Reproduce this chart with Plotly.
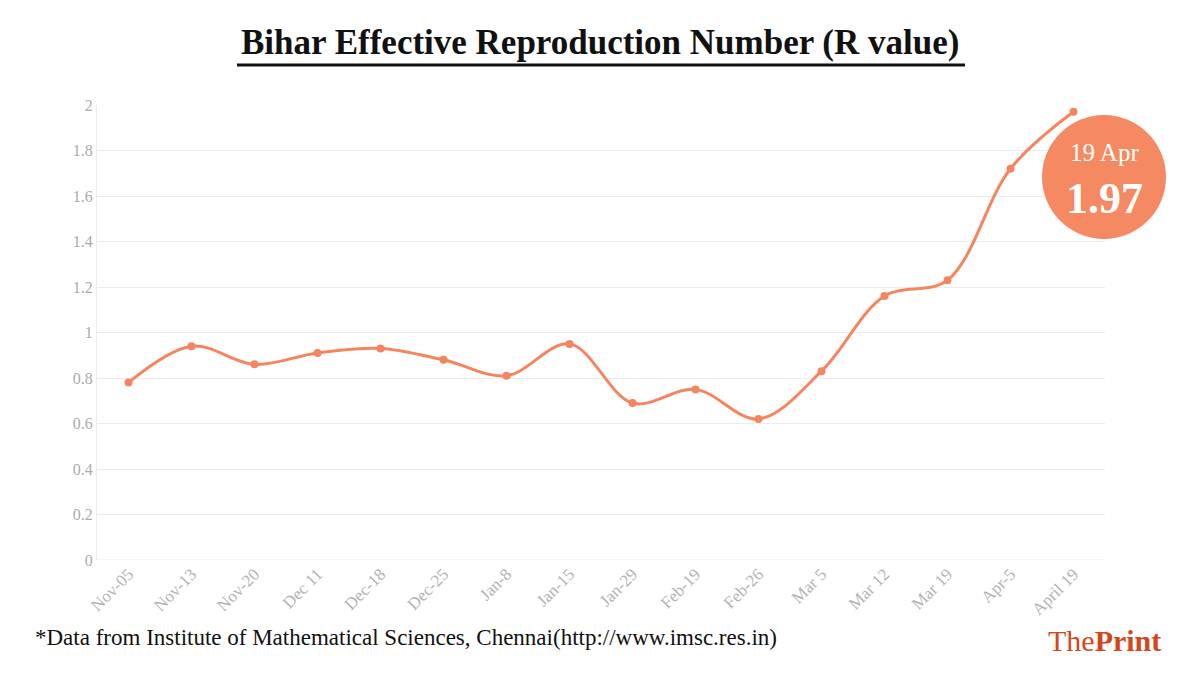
import plotly.graph_objects as go

categories = ["Nov-05", "Nov-13", "Nov-20", "Dec 11", "Dec-18", "Dec-25", "Jan-8", "Jan-15",
              "Jan-29", "Feb-19", "Feb-26", "Mar 5", "Mar 12", "Mar 19", "Apr-5", "April 19"]
r_values = [0.78, 0.94, 0.86, 0.91, 0.93, 0.88, 0.81, 0.95, 0.69, 0.75, 0.62, 0.83, 1.16, 1.23, 1.72, 1.97]
y_ticks = [0, 0.2, 0.4, 0.6, 0.8, 1, 1.2, 1.4, 1.6, 1.8, 2]
y_tick_labels = ["0", "0.2", "0.4", "0.6", "0.8", "1", "1.2", "1.4", "1.6", "1.8", "2"]

ORANGE = "#F5855E"
SERIF = "Liberation Serif, DejaVu Serif, serif"

# plot area in screen pixels (page has an 8px body offset)
L, R, T, B = 97, 1105, 105, 560
OFF = 8
W, H = R - L, B - T


def px(sx):
    return (sx - L) / W


def py(sy):
    return (B - sy) / H


fig = go.Figure()
fig.add_trace(go.Scatter(
    x=categories, y=r_values, mode="lines+markers",
    line=dict(color=ORANGE, width=3, shape="spline", smoothing=1.0),
    marker=dict(color=ORANGE, size=8),
    showlegend=False, hoverinfo="x+y",
))

fig.update_layout(
    width=1200, height=675,
    margin=dict(l=L - OFF, r=1200 - (L - OFF) - W, t=T - OFF, b=675 - (T - OFF) - H),
    paper_bgcolor="white", plot_bgcolor="white",
    font=dict(family=SERIF, color="#aaaaaa"),
    xaxis=dict(type="category", range=[-0.5, 15.5], tickangle=-45,
               showgrid=False, showline=False, ticks="", automargin=False,
               tickfont=dict(size=17, color="#b3b3b3", family=SERIF)),
    yaxis=dict(range=[0, 2], tickvals=y_ticks, ticktext=y_tick_labels,
               showgrid=True, gridcolor="#ececec", gridwidth=1, automargin=False,
               zeroline=False, showline=True, linecolor="#ececec", linewidth=1,
               ticks="", ticklen=0, tickfont=dict(size=16, color="#aaaaaa", family=SERIF)),
)

# reference line at R = 1
fig.add_shape(type="line", xref="paper", yref="y", x0=0, x1=1, y0=1, y1=1,
              line=dict(color="#a8a8a8", width=1.2), layer="below")
# bottom axis line at 0
fig.add_shape(type="line", xref="paper", yref="y", x0=0, x1=1, y0=0, y1=0,
              line=dict(color="#ececec", width=1), layer="below")

# title
fig.add_annotation(xref="paper", yref="paper", x=px(600), y=py(42), xanchor="center", yanchor="middle",
                   text="<b>Bihar Effective Reproduction Number (R value)</b>", showarrow=False,
                   font=dict(size=35, color="#111111", family=SERIF))
# title underline
fig.add_shape(type="line", xref="paper", yref="paper",
              x0=px(237), x1=px(965), y0=py(65), y1=py(65),
              line=dict(color="#111111", width=3))

# highlight circle
cx, cy, rad = 1104, 177, 62
fig.add_shape(type="circle", xref="paper", yref="paper",
              x0=px(cx - rad), x1=px(cx + rad), y0=py(cy + rad), y1=py(cy - rad),
              fillcolor="#F58A62", line=dict(width=0), layer="above")
fig.add_annotation(xref="paper", yref="paper", x=px(cx), y=py(153),
                   xanchor="center", yanchor="middle",
                   text="19 Apr", showarrow=False,
                   font=dict(size=25, color="white", family=SERIF))
fig.add_annotation(xref="paper", yref="paper", x=px(cx), y=py(198),
                   xanchor="center", yanchor="middle",
                   text="<b>1.97</b>", showarrow=False,
                   font=dict(size=44, color="white", family=SERIF))

# footnote
fig.add_annotation(xref="paper", yref="paper", x=px(33), y=py(637),
                   xanchor="left", yanchor="middle",
                   text="*Data from Institute of Mathematical Sciences, Chennai(http://www.imsc.res.in)",
                   showarrow=False, font=dict(size=23, color="#111111", family=SERIF))
# logo
fig.add_annotation(xref="paper", yref="paper", x=px(1163), y=py(640),
                   xanchor="right", yanchor="middle",
                   text="The<b>Print</b>", showarrow=False,
                   font=dict(size=30, color="#D4471C", family=SERIF))

fig.write_html("out.html")
